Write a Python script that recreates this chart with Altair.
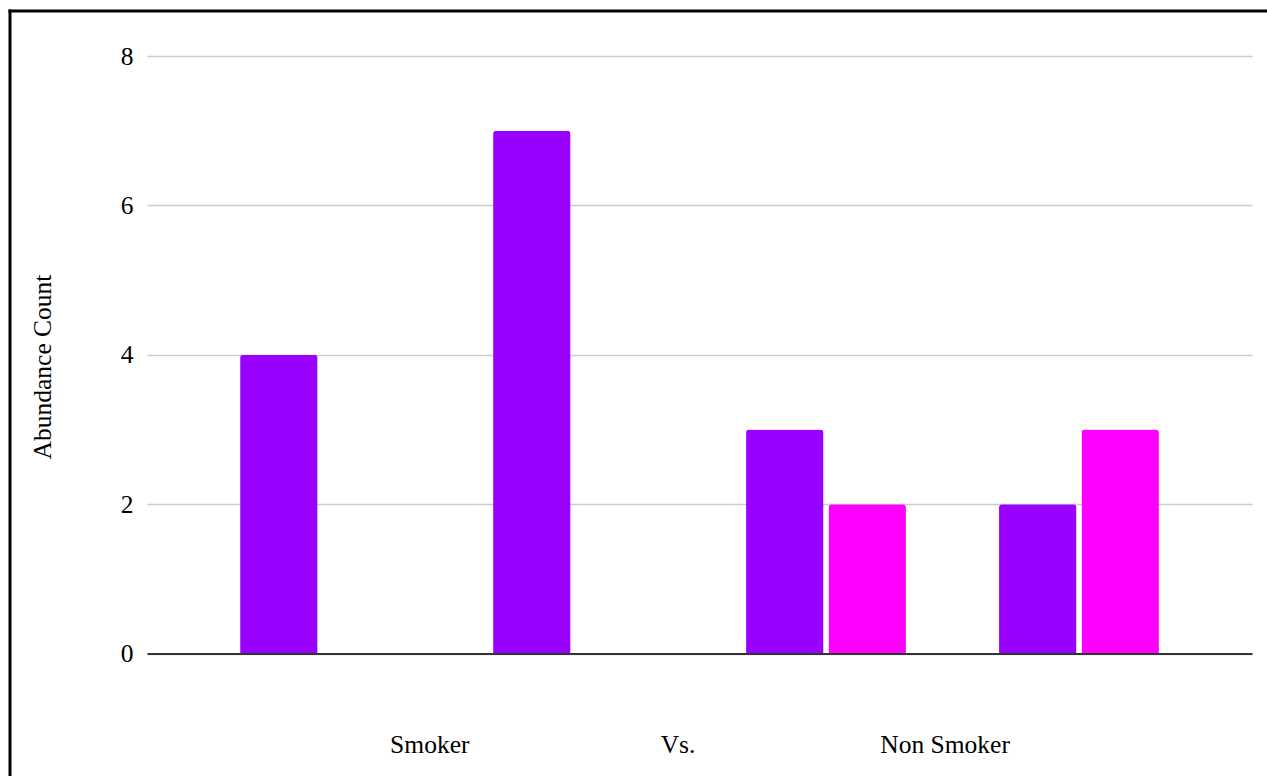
import altair as alt
import pandas as pd

# ---- data ----
groups = ["Group 1", "Group 2", "Group 3", "Group 4"]
series = ["Series A", "Series B"]
series_a = [4, 7, 3, 2]
series_b = [0, 0, 2, 3]
y_ticks = [0, 2, 4, 6, 8]
colors = ["#9900ff", "#ff00ff"]
y_title = "Abundance Count"
x_parts = ["Smoker", "Vs.", "Non Smoker"]

rows = []
for g, a, b in zip(groups, series_a, series_b):
    rows.append({"group": g, "series": series[0], "value": a})
    rows.append({"group": g, "series": series[1], "value": b})
df = pd.DataFrame(rows)

NB = "\u00a0"
x_title = x_parts[0] + NB * 30 + x_parts[1] + NB * 29 + x_parts[2]

W, H = 1105, 597.5
FONT = "Liberation Serif"
FS = 25.5

bars = (
    alt.Chart(df)
    .transform_filter("datum.value > 0")
    .mark_bar(cornerRadiusTopLeft=3, cornerRadiusTopRight=3)
    .encode(
        x=alt.X(
            "group:N",
            sort=groups,
            scale=alt.Scale(paddingInner=0.368, paddingOuter=0.368),
            axis=alt.Axis(
                title=x_title,
                labels=False,
                ticks=False,
                grid=False,
                domain=True,
                domainColor="#333333",
                domainWidth=2,
                titleFont=FONT,
                titleFontSize=FS,
                titleFontWeight="normal",
                titleColor="#000000",
                titleX=W / 2,
                titleY=98.5,
                titleBaseline="alphabetic",
                titleAlign="center",
                zindex=1,
            ),
        ),
        xOffset=alt.XOffset("series:N", sort=series, scale=alt.Scale(paddingInner=0.06)),
        y=alt.Y(
            "value:Q",
            scale=alt.Scale(domain=[0, 8], nice=False),
            axis=alt.Axis(
                values=y_ticks,
                title=y_title,
                domain=False,
                ticks=False,
                grid=True,
                gridColor="#cccccc",
                gridWidth=1.5,
                labelFont=FONT,
                labelFontSize=FS,
                labelColor="#000000",
                labelPadding=14,
                titleFont=FONT,
                titleFontSize=FS,
                titleFontWeight="normal",
                titleColor="#000000",
                titleX=-104.5,
                titleY=310.5,
                titleBaseline="middle",
                titleAlign="center",
                titleAngle=270,
            ),
        ),
        color=alt.Color("series:N", scale=alt.Scale(domain=series, range=colors), legend=None),
    )
)

frame_df = pd.DataFrame({"k": [0]})
left_border = alt.Chart(frame_df).mark_rule(color="black", strokeWidth=3).encode(
    x=alt.value(-137), y=alt.value(-46.5), y2=alt.value(730)
)
top_border = alt.Chart(frame_df).mark_rule(color="black", strokeWidth=3).encode(
    x=alt.value(-138.5), x2=alt.value(1130), y=alt.value(-45)
)

chart = (
    alt.layer(bars, left_border, top_border)
    .properties(
        width=W,
        height=H,
        autosize=alt.AutoSizeParams(type="none"),
        padding={"left": 147, "top": 56, "right": 15, "bottom": 122.5},
        background="white",
    )
    .configure(font=FONT, view=alt.ViewConfig(stroke=None))
)

chart.save("out.html", embed_options={"renderer": "svg", "actions": False})
